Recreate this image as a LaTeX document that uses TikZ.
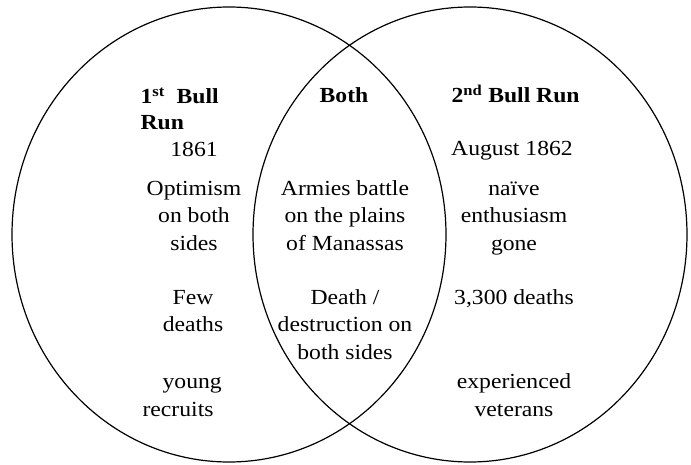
\documentclass[tikz,border=0pt]{standalone}
\usepackage{fontspec}
\setmainfont{Liberation Serif}[FakeStretch=1.1]
\begin{document}
\begin{tikzpicture}[x=1pt,y=1pt,line width=1.2pt,
    font=\fontsize{21.5}{27.5}\selectfont,inner sep=0pt,
    cell/.style={align=center,anchor=base},
    head/.style={font=\fontsize{21.5}{26}\selectfont\bfseries,
      align=left,anchor=base west}]
  \path[use as bounding box] (0,0) rectangle (691,464);
  \draw (229,229.5) ellipse [x radius=217,y radius=227.5];
  \draw (470,229.5) ellipse [x radius=217,y radius=227.5];
  % headings (base = last line)
  \node[head] (first) at (140,334) {1\textsuperscript{st}\ \ Bull\\Run};
  \node[head,anchor=base] (both) at (344,361) {Both};
  \node[head] (second) at (451,361) {2\textsuperscript{nd} Bull Run};
  % 1st Bull Run
  \node[cell] (year1) at (194,307.5) {1861};
  \node[cell] (mood1) at (194,214) {Optimism\\on both\\sides};
  \node[cell] (toll1) at (193,132) {Few\\deaths};
  \node[cell,align=left,anchor=base west] (troops1) at (142,48)
    {\hspace*{20pt}young\\recruits};
  % both
  \node[cell] (place) at (345,214) {Armies battle\\on the plains\\of Manassas};
  \node[cell] (toll) at (345,105) {Death /\\destruction on\\both sides};
  % 2nd Bull Run
  \node[cell] (year2) at (512,308) {August 1862};
  \node[cell] (mood2) at (514,214) {naïve\\enthusiasm\\gone};
  \node[cell] (toll2) at (514,160) {3,300 deaths};
  \node[cell] (troops2) at (514,48) {experienced\\veterans};
\end{tikzpicture}
\end{document}
